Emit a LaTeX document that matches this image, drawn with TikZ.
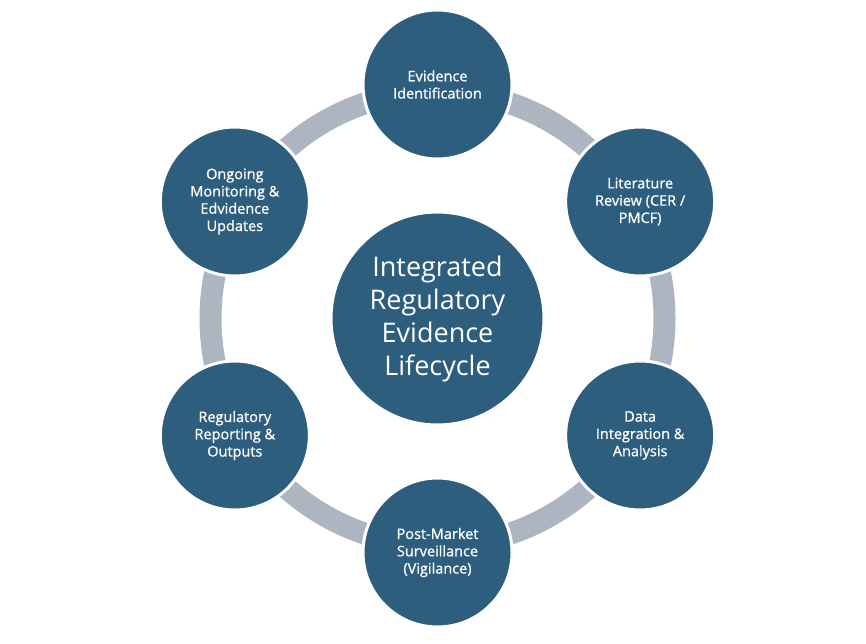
\documentclass[tikz,border=0pt]{standalone}
\usepackage{fontspec}
\setmainfont{Open Sans}
\newfontfamily\stagefont[FakeBold=0.8]{Open Sans}
\usetikzlibrary{calc}
\definecolor{hubblue}{RGB}{46,94,126}
\definecolor{ringgray}{RGB}{173,181,193}
\begin{document}
\begin{tikzpicture}[x=1pt,y=-1pt,
  stage/.style={circle, fill=hubblue, draw=white, line width=3pt, minimum size=149pt,
    inner sep=0pt, text=white, align=center, font=\stagefont\fontsize{14.5}{17.3}\selectfont},
  hub/.style={circle, fill=hubblue, draw=white, line width=3pt, minimum size=213pt,
    inner sep=0pt, text=white, align=center, font=\fontsize{27}{33}\selectfont},
  ring/.style={draw=ringgray, line width=22pt}]
\path[use as bounding box] (0,0) rectangle (866,644);
\coordinate (c) at (437.5,318.5);
\draw[ring] (c) circle[radius=227pt];
\node[hub] (center) at (c) {Integrated\\Regulatory\\Evidence\\Lifecycle};
\node[stage] (s1) at ($(c)+(-90:234)$) {Evidence\\Identification};
\node[stage] (s2) at ($(c)+(-30:234)$) {Literature\\Review (CER /\\PMCF)};
\node[stage] (s3) at ($(c)+(30:234)$) {Data\\Integration \&\\Analysis};
\node[stage] (s4) at ($(c)+(90:234)$) {Post-Market\\Surveillance\\(Vigilance)};
\node[stage] (s5) at ($(c)+(150:234)$) {Regulatory\\Reporting \&\\Outputs};
\node[stage] (s6) at ($(c)+(210:234)$) {Ongoing\\Monitoring \&\\Edvidence\\Updates};
\end{tikzpicture}
\end{document}
